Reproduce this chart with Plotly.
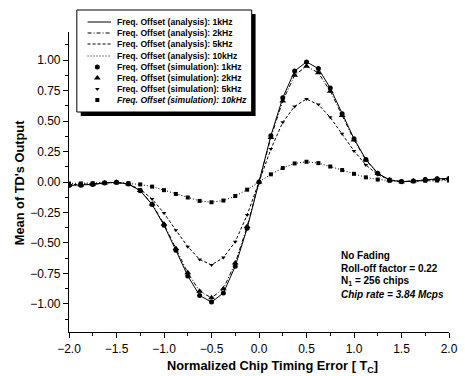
import plotly.graph_objects as go

# Normalized chip timing error (in chips), sampled every 1/8 chip
timing_error = [-2.0, -1.875, -1.75, -1.625, -1.5, -1.375, -1.25, -1.125,
                -1.0, -0.875, -0.75, -0.625, -0.5, -0.375, -0.25, -0.125,
                0.0, 0.125, 0.25, 0.375, 0.5, 0.625, 0.75, 0.875,
                1.0, 1.125, 1.25, 1.375, 1.5, 1.625, 1.75, 1.875, 2.0]

# Mean timing-discriminator output, analysis
ana_1khz = [-0.028, -0.026, -0.02, -0.008, -0.002, -0.016, -0.072, -0.185,
            -0.355, -0.56, -0.77, -0.93, -0.985, -0.91, -0.69, -0.38,
            0.0, 0.38, 0.69, 0.91, 0.985, 0.93, 0.77, 0.56,
            0.355, 0.185, 0.072, 0.016, 0.002, 0.008, 0.02, 0.026, 0.028]
ana_2khz = [-0.027, -0.025, -0.019, -0.008, -0.002, -0.016, -0.07, -0.18,
            -0.345, -0.545, -0.745, -0.895, -0.95, -0.875, -0.665, -0.365,
            0.0, 0.365, 0.665, 0.875, 0.95, 0.895, 0.745, 0.545,
            0.345, 0.18, 0.07, 0.016, 0.002, 0.008, 0.019, 0.025, 0.027]
ana_5khz = [-0.022, -0.02, -0.015, -0.006, -0.004, -0.018, -0.06, -0.14,
            -0.255, -0.395, -0.53, -0.635, -0.68, -0.62, -0.49, -0.27,
            0.0, 0.27, 0.49, 0.62, 0.68, 0.635, 0.53, 0.395,
            0.255, 0.14, 0.06, 0.018, 0.004, 0.006, 0.015, 0.02, 0.022]
ana_10khz = [-0.012, -0.012, -0.01, -0.006, -0.005, -0.01, -0.02, -0.038,
             -0.067, -0.098, -0.127, -0.155, -0.166, -0.152, -0.115, -0.063,
             0.0, 0.063, 0.115, 0.152, 0.166, 0.155, 0.127, 0.098,
             0.067, 0.038, 0.02, 0.01, 0.005, 0.006, 0.01, 0.012, 0.012]

# Simulation results (fall on the analytical curves)
sim_1khz = list(ana_1khz)
sim_2khz = list(ana_2khz)
sim_5khz = list(ana_5khz)
sim_10khz = list(ana_10khz)

legend_labels = [
    "Freq. Offset (analysis): 1kHz",
    "Freq. Offset (analysis): 2kHz",
    "Freq. Offset (analysis): 5kHz",
    "Freq. Offset (analysis): 10kHz",
    "Freq. Offset (simulation): 1kHz",
    "Freq. Offset (simulation): 2kHz",
    "Freq. Offset (simulation): 5kHz",
    "<i>Freq. Offset (simulation): 10kHz</i>",
]

FONT = "Liberation Sans, Arial, sans-serif"
W, H = 465, 376
L, R, T, B = 69, 7, 32, 44
PW, PH = W - L - R, H - T - B

def px(x):
    return (x - L) / PW

def py(y):
    return (H - B - y) / PH

line_styles = ["solid", "4px,2px,1px,2px", "3px,2px", "1px,2px"]
marker_styles = [("circle", 5), ("triangle-up", 6), ("triangle-down", 4), ("square", 4)]

fig = go.Figure()

analysis = [ana_1khz, ana_2khz, ana_5khz, ana_10khz]
simulation = [sim_1khz, sim_2khz, sim_5khz, sim_10khz]

for vals, dash in zip(analysis, line_styles):
    fig.add_trace(go.Scatter(x=timing_error, y=vals, mode="lines",
                             line=dict(color="black", width=1, dash=dash),
                             showlegend=False, hoverinfo="skip"))
for vals, (sym, size) in zip(simulation, marker_styles):
    fig.add_trace(go.Scatter(x=timing_error, y=vals, mode="markers",
                             marker=dict(symbol=sym, size=size, color="black"),
                             showlegend=False, hoverinfo="skip"))

# Hand-built legend box with drop shadow
row_y = [22, 33, 44, 56, 67, 78, 89, 100]
shapes = [
    dict(type="rect", xref="paper", yref="paper", layer="below",
         x0=px(81), x1=px(260), y0=py(14), y1=py(116),
         fillcolor="black", line=dict(width=0)),
    dict(type="rect", xref="paper", yref="paper", layer="below",
         x0=px(77), x1=px(256), y0=py(10), y1=py(112),
         fillcolor="white", line=dict(color="black", width=1)),
]
for i, dash in enumerate(line_styles):
    shapes.append(dict(type="line", xref="paper", yref="paper", layer="below",
                       x0=px(88), x1=px(112), y0=py(row_y[i]), y1=py(row_y[i]),
                       line=dict(color="black", width=1, dash=dash)))

# Legend symbols on a pixel-scaled overlay axis
for i, (sym, size) in enumerate(marker_styles):
    fig.add_trace(go.Scatter(x=[98], y=[row_y[4 + i]], mode="markers",
                             xaxis="x2", yaxis="y2", cliponaxis=False,
                             marker=dict(symbol=sym, size=size, color="black"),
                             showlegend=False, hoverinfo="skip"))

annotations = []
for i, lab in enumerate(legend_labels):
    annotations.append(dict(xref="paper", yref="paper", x=px(116), y=py(row_y[i]),
                            text="<b>" + lab + "</b>", showarrow=False,
                            xanchor="left", yanchor="middle",
                            font=dict(family=FONT, size=8.6, color="black")))

notes = ["No Fading", "Roll-off factor = 0.22", "N<sub>1</sub> = 256 chips",
         "<i>Chip rate = 3.84 Mcps</i>"]
for i, t in enumerate(notes):
    annotations.append(dict(xref="paper", yref="paper", x=px(345), y=py(255 + 13 * i),
                            text="<b>" + t + "</b>", showarrow=False,
                            xanchor="left", yanchor="middle",
                            font=dict(family=FONT, size=10, color="black")))

annotations.append(dict(xref="paper", yref="paper", x=px(277), y=py(366),
                        text="<b>Normalized Chip Timing Error [ T<sub>C</sub>]</b>",
                        showarrow=False, xanchor="center", yanchor="middle",
                        font=dict(family=FONT, size=12.8, color="black")))
annotations.append(dict(xref="paper", yref="paper", x=px(18), y=py(183),
                        text="<b>Mean of TD's Output</b>", textangle=-90,
                        showarrow=False, xanchor="center", yanchor="middle",
                        font=dict(family=FONT, size=12.8, color="black")))

fig.update_layout(
    width=W, height=H,
    margin=dict(l=L, r=R, t=T, b=B, pad=0),
    paper_bgcolor="white", plot_bgcolor="rgba(0,0,0,0)",
    font=dict(family=FONT, color="black"),
    shapes=shapes, annotations=annotations, showlegend=False,
    xaxis=dict(range=[-2.0, 2.0], dtick=0.5, tick0=-2.0, tickformat=".1f",
               showgrid=False, zeroline=False, showline=True,
               linecolor="black", linewidth=1.2, ticks="outside", ticklen=5,
               tickwidth=1.2, tickcolor="black", ticklabeloverflow="allow",
               tickfont=dict(family=FONT, size=12, color="black"),
               minor=dict(dtick=0.25, ticks="outside", ticklen=3,
                          tickcolor="black", tickwidth=1, showgrid=False)),
    yaxis=dict(range=[-1.23, 1.23], dtick=0.25, tick0=0, tickformat=".2f",
               showgrid=False, zeroline=False, showline=True,
               linecolor="black", linewidth=1.2, ticks="outside", ticklen=5,
               tickwidth=1.2, tickcolor="black",
               tickfont=dict(family=FONT, size=12, color="black"),
               minor=dict(dtick=0.125, ticks="outside", ticklen=3,
                          tickcolor="black", tickwidth=1, showgrid=False)),
    xaxis2=dict(overlaying="x", range=[L, W - R], visible=False),
    yaxis2=dict(overlaying="y", range=[H - B, T], visible=False),
)

fig.write_html("out.html")
